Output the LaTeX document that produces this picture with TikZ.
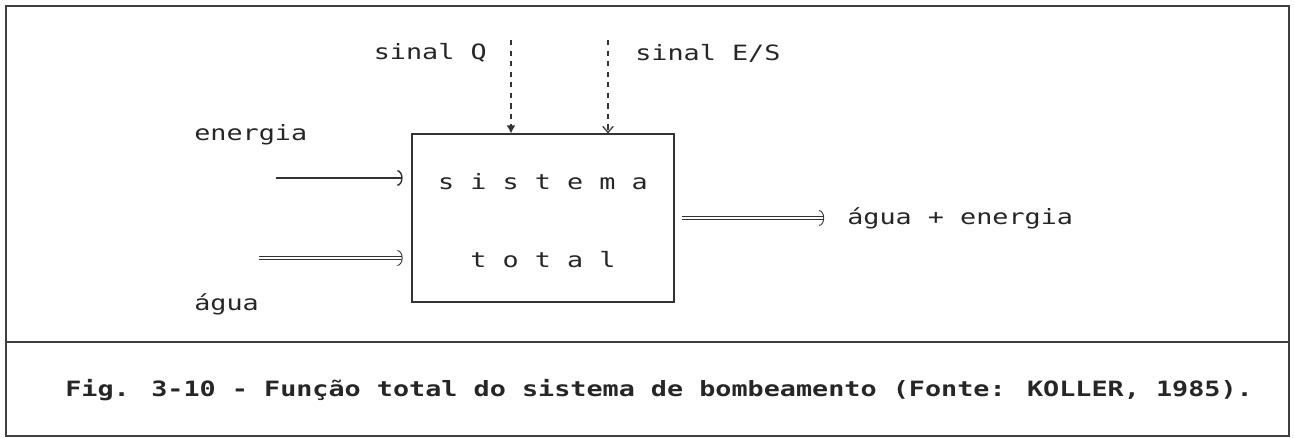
\documentclass[tikz,border=0pt]{standalone}
\usepackage{fontspec}
\usepackage{tikz}
\usetikzlibrary{arrows.meta}
\newfontfamily\dotfont[FakeStretch=1.27, BoldFont={DejaVu Sans Mono Bold}]{DejaVu Sans Mono}

\begin{document}
\begin{tikzpicture}[x=0.02cm, y=-0.02cm,
    font=\dotfont\fontsize{12}{14}\selectfont,
    txt/.style={inner sep=0pt, text=black!85},
    frame/.style={draw=black!75, line width=0.7pt},
    flow/.style={draw=black!80, line width=0.6pt, shorten >=5pt, -{Arc Barb[length=3pt, width=9pt, line width=0.8pt]}},
    water/.style={draw=black!80, line width=0.5pt, double, double distance=1.3pt, shorten >=5pt, -{Arc Barb[length=3pt, width=9pt]}},
    signal/.style={draw=black!80, line width=0.7pt, dash pattern=on 3pt off 3pt}]
    \useasboundingbox (0,0) rectangle (1295,438);

    % Frame and caption
    \draw[frame] (6,6) rectangle (1289,436);
    \draw[frame] (6,342) -- (1289,342);
    \node[txt, font=\dotfont\fontsize{12}{14}\selectfont\bfseries, anchor=west] (caption) at (65,390)
        {Fig. 3-10 - Função total do sistema de bombeamento (Fonte: KOLLER, 1985).};

    % System block
    \node[draw=black!80, line width=0.7pt, minimum width=5.24cm, minimum height=3.36cm] (sys) at (543,218) {};
    \node[txt] (sysTop) at (543,182) {s i s t e m a};
    \node[txt] (sysBot) at (543,260) {t o t a l};

    % Signals from above
    \node[txt, anchor=east] (sigQ) at (487,53) {sinal Q};
    \node[txt, anchor=west] (sigES) at (635,53) {sinal E/S};
    \coordinate (qTop) at (511,40);
    \coordinate (esTop) at (608,40);
    \draw[signal, -{Latex[length=4.5pt, width=5pt]}] (qTop) -- (qTop |- sys.north);
    \draw[signal, -{Straight Barb[length=3.5pt, width=6pt]}] (esTop) -- (esTop |- sys.north);

    % Inputs
    \node[txt, anchor=west] (enLbl) at (194,135) {energia};
    \node[txt, anchor=west] (agLbl) at (194,304) {água};
    \coordinate (enIn) at (276,178);
    \coordinate (agIn) at (259,258);
    \draw[flow] (enIn) -- (enIn -| sys.west);
    \draw[water] (agIn) -- (agIn -| sys.west);

    % Output
    \node[txt, anchor=west] (outLbl) at (847,218) {água + energia};
    \draw[water, shorten <=4pt, shorten >=13pt] (sys.east) -- (outLbl.west);
\end{tikzpicture}
\end{document}
